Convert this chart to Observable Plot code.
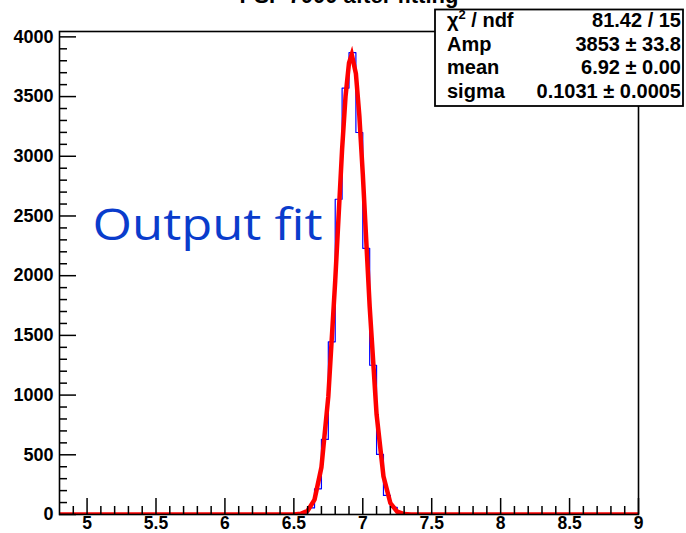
<!DOCTYPE html>
<html><head><meta charset="utf-8">
<script src="https://cdn.jsdelivr.net/npm/d3@7"></script>
<script src="https://cdn.jsdelivr.net/npm/@observablehq/plot@0.6"></script>
<style>
body{margin:0;background:#fff}
#chart{position:relative;width:686px;height:533px;overflow:hidden}
</style>
</head><body><div id="chart"></div>
<script>
// ---- data ----
const title = "PSF 7000 after fitting";
const annotation = "Output fit";
const xRange = [4.8, 9.0];
const yMax = 4045;
const binWidth = 0.05;
const binLeft   = [6.45, 6.50, 6.55, 6.60, 6.65, 6.70, 6.75, 6.80, 6.85, 6.90, 6.95, 7.00, 7.05, 7.10, 7.15, 7.20, 7.25, 7.30, 7.35, 7.40];
const binCounts = [0,    2,    12,   55,   215,  629,  1446, 2640, 3571, 3868, 3199, 2229, 1250, 503,  160,  60,   15,   5,    1,    0];
const fitX = [4.8, 6.35, 6.45, 6.5, 6.55, 6.6, 6.65, 6.7, 6.75, 6.8, 6.85, 6.875, 6.9, 6.92, 6.95, 6.975, 7.0, 7.05, 7.1, 7.15, 7.2, 7.25, 7.3, 7.35, 7.4, 7.5, 9.0];
const fitY = [0,   0,    0.1,  1,   6,    31,  125,  395, 989,  1957, 3060, 3503, 3781, 3853, 3693, 3341, 2852, 1740, 839, 320,  96,  23,   4,   1,    0.1, 0,   0];
const statLabels = ["χ2 / ndf", "Amp", "mean", "sigma"];
const statValues = ["81.42 / 15", "3853 ± 33.8", "6.92 ± 0.00", "0.1031 ± 0.0005"];
const xTickLabels = [5, 5.5, 6, 6.5, 7, 7.5, 8, 8.5, 9];
const yTickLabels = [0, 500, 1000, 1500, 2000, 2500, 3000, 3500, 4000];

// ---- derived ----
const W = 686, H = 533;
const mL = 59, mR = 48, mT = 31, mB = 19;
const plotW = W - mL - mR, plotH = H - mT - mB;
const histPts = [{x: xRange[0], y: 0}]
  .concat(binLeft.map((x, i) => ({x, y: binCounts[i]})))
  .concat([{x: binLeft[binLeft.length - 1] + binWidth, y: 0}, {x: xRange[1], y: 0}]);
const fitPts = fitX.map((x, i) => ({x, y: fitY[i]}));
const xMinor = d3.range(49, 91).map(d => d / 10).filter(d => Math.abs(d * 2 - Math.round(d * 2)) > 1e-6);
const yMinor = d3.range(100, 4001, 100).filter(d => d % 500 !== 0);
const font = "'Liberation Sans', Arial, Helvetica, sans-serif";

const chart = Plot.plot({
  width: W, height: H,
  marginLeft: mL, marginRight: mR, marginTop: mT, marginBottom: mB,
  style: {fontFamily: font, background: "#fff", color: "#000"},
  x: {domain: xRange, label: null},
  y: {domain: [0, yMax], label: null},
  marks: [
    Plot.line(histPts, {x: "x", y: "y", curve: "step-after", stroke: "#0000ff", strokeWidth: 1.2}),
    Plot.line(fitPts, {x: "x", y: "y", curve: "linear", stroke: "#ff0000", strokeWidth: 4.5, strokeLinejoin: "miter", strokeMiterlimit: 10, clip: true}),
    Plot.text([annotation], {x: 5.04, y: 2300, text: d => d, textAnchor: "start", lineAnchor: "bottom",
      fill: "#0a3ccc", fontSize: 43, fontFamily: "'Open Sans', sans-serif"}),
    Plot.tickX(xTickLabels, {x: d => d, insetTop: plotH - 16, stroke: "#000", strokeWidth: 1.5}),
    Plot.tickX(xMinor, {x: d => d, insetTop: plotH - 8, stroke: "#000", strokeWidth: 1.5}),
    Plot.tickY(yTickLabels, {y: d => d, insetRight: plotW - 17, stroke: "#000", strokeWidth: 1.5}),
    Plot.tickY(yMinor, {y: d => d, insetRight: plotW - 8, stroke: "#000", strokeWidth: 1.5}),
    Plot.frame({stroke: "#000", strokeWidth: 1.6}),
    Plot.axisX(xTickLabels, {tickSize: 0, tickPadding: 2, fontSize: 17.5, fontWeight: "bold", tickFormat: d => String(d), label: null}),
    Plot.axisY(yTickLabels, {tickSize: 0, tickPadding: 6, fontSize: 18, fontWeight: "bold", tickFormat: d => String(d), label: null})
  ]
});
document.getElementById("chart").appendChild(chart);

const svg = d3.select(chart);
// stretch the annotation like the reference
svg.selectAll("text").filter(function(){ return this.textContent === annotation; })
  .attr("textLength", 230).attr("lengthAdjust", "spacingAndGlyphs");

// title (mostly above the visible area)
svg.append("text").attr("x", 349).attr("y", 3).attr("text-anchor", "middle")
  .attr("font-family", font).attr("font-weight", "bold").attr("font-size", 22).text(title);

// stat box
const box = svg.append("g").attr("font-family", font).attr("font-weight", "bold").attr("font-size", 20).attr("fill", "#000");
box.append("rect").attr("x", 435).attr("y", 9.5).attr("width", 248).attr("height", 96.5)
  .attr("fill", "#fff").attr("stroke", "#000").attr("stroke-width", 1.8);
const baselines = [27, 50.5, 74, 97.5];
statLabels.forEach((lab, i) => {
  const t = box.append("text").attr("x", 447).attr("y", baselines[i]).attr("text-anchor", "start");
  if (lab.startsWith("χ2")) {
    t.append("tspan").text("χ");
    t.append("tspan").attr("font-size", 13).attr("dy", -8).text("2");
    t.append("tspan").attr("dy", 8).text(lab.slice(2));
  } else t.text(lab);
  box.append("text").attr("x", 681).attr("y", baselines[i]).attr("text-anchor", "end").text(statValues[i]);
});
</script>
</body></html>
